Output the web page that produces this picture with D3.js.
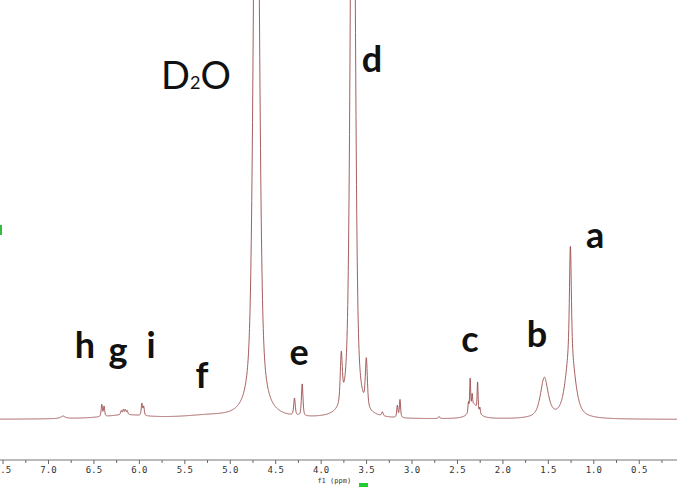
<!DOCTYPE html>
<html>
<head>
<meta charset="utf-8">
<script src="https://cdn.jsdelivr.net/npm/d3@7/dist/d3.min.js"></script>
<style>
html,body{margin:0;padding:0;background:#fff;}
svg{display:block;}
</style>
</head>
<body>
<svg id="chart" width="677" height="487"></svg>
<script>
// ---- data ----
// peak positions (ppm), heights (arbitrary intensity), half-widths (ppm), Lorentzian fraction
const peakPpm    = [6.835, 6.15, 6.408, 6.383, 6.195, 6.172, 6.150, 6.128, 5.967, 5.947, 5.25, 4.707, 4.288, 4.203, 3.773, 3.646, 3.497, 3.321, 3.156, 3.127, 2.697, 2.315, 2.374, 2.355, 2.333, 2.273, 2.248, 1.539, 1.252, 1.252];
const peakHeight = [2.5,   4,    12,    10,    4,     5,     5,     4,     12,    9,     3,    766,   17,    32,    48,    800,   47,    4,     12,    18,    2,     14,    10,    32,    12,    29,    6,     40,    68,    105];
const peakWidth  = [0.03,  0.3,  0.008, 0.008, 0.008, 0.008, 0.008, 0.008, 0.008, 0.008, 0.35, 0.0353,0.01,  0.01,  0.013, 0.0287,0.013, 0.01,  0.008, 0.008, 0.01,  0.05,  0.006, 0.006, 0.006, 0.006, 0.006, 0.05,  0.06,  0.012];
const peakLorentz= [1,     1,    0.5,   0.5,   0.5,   0.5,   0.5,   0.5,   0.5,   0.5,   1,    0.55,  0.5,   0.5,   0.5,   0.5,   0.5,   0.5,   0.5,   0.5,   0.5,   1,     0.5,   0.5,   0.5,   0.5,   0.5,   0.7,   0.7,   0.5];

const tickValues = [7.5, 7.0, 6.5, 6.0, 5.5, 5.0, 4.5, 4.0, 3.5, 3.0, 2.5, 2.0, 1.5, 1.0, 0.5];
const minorTicks = [7.25, 6.75, 6.25, 5.75, 5.25, 4.75, 4.25, 3.75, 3.25, 2.75, 2.25, 1.75, 1.25, 0.75, 0.25];
const axisTitle = "f1 (ppm)";

const peakLabels = ["h", "g", "i", "f", "e", "d", "c", "b", "a"];
const labelPpm   = [6.593, 6.230, 5.867, 5.305, 4.238, 3.435, 2.357, 1.620, 0.981];
const labelInt   = [61.5,  57,    61.5,  31.5,  54.5,  347.5, 67.5,  72.5,  171.5];

// ---- layout ----
const W = 677, H = 487;
const svg = d3.select("#chart");
const x = d3.scaleLinear().domain([7.528, 0.079]).range([0, W]);
const y = d3.scaleLinear().domain([0, 419.5]).range([419.5, 0]);
const axisY = 460;

function intensity(p) {
  let s = 0;
  for (let i = 0; i < peakPpm.length; i++) {
    const u = (p - peakPpm[i]) / peakWidth[i];
    const eta = peakLorentz[i];
    s += peakHeight[i] * (eta / (1 + u * u) + (1 - eta) * Math.exp(-Math.LN2 * u * u));
  }
  return s;
}

const grid = d3.range(0, W + 0.25, 0.25).map(px => x.invert(px));
const pts = grid.map(p => [p, intensity(p)]);

svg.append("clipPath").attr("id", "clip")
  .append("rect").attr("x", 0).attr("y", 0).attr("width", W).attr("height", axisY - 2);

svg.append("path")
  .datum(pts)
  .attr("clip-path", "url(#clip)")
  .attr("fill", "none")
  .attr("stroke", "#9c4c4c")
  .attr("stroke-width", 0.9)
  .attr("d", d3.line().x(d => x(d[0])).y(d => y(d[1])));

// axis
const axis = d3.axisBottom(x).tickValues(tickValues).tickFormat(d3.format(".1f")).tickSize(4).tickPadding(3);
const gAx = svg.append("g").attr("transform", `translate(0,${axisY})`).call(axis);
gAx.select(".domain").attr("stroke", "#777").attr("d", `M0,0H${W}`);
gAx.selectAll(".tick line").attr("stroke", "#666");
gAx.selectAll(".tick text").attr("fill", "#333").style("font-family", "DejaVu Sans Mono, monospace").style("font-size", "9px");
const minor = d3.axisBottom(x).tickValues(minorTicks).tickFormat("").tickSize(3);
const gMin = svg.append("g").attr("transform", `translate(0,${axisY})`).call(minor);
gMin.select(".domain").remove();
gMin.selectAll(".tick line").attr("stroke", "#666");

svg.append("text").attr("x", x(3.85)).attr("y", 483)
  .attr("text-anchor", "middle").attr("fill", "#333")
  .style("font-family", "DejaVu Sans Mono, monospace").style("font-size", "7px")
  .text(axisTitle);
svg.append("rect").attr("x", 359).attr("y", 483).attr("width", 9).attr("height", 4).attr("fill", "#22cc33");
svg.append("rect").attr("x", 0).attr("y", 225).attr("width", 2).attr("height", 10).attr("fill", "#33bb44");

// labels
const lab = svg.append("g").style("font-family", "Lato, DejaVu Sans, sans-serif").style("font-weight", "bold").attr("fill", "#111");
peakLabels.forEach((t, i) => {
  lab.append("text").attr("x", x(labelPpm[i])).attr("y", y(labelInt[i]))
    .attr("text-anchor", "middle").style("font-size", "36px").text(t);
});
const dl = lab.append("text").attr("x", 196).attr("y", 89).attr("text-anchor", "middle").style("font-size", "38px").style("font-weight", "normal");
dl.append("tspan").text("D");
dl.append("tspan").style("font-size", "18px").text("2");
dl.append("tspan").text("O");
</script>
</body>
</html>
